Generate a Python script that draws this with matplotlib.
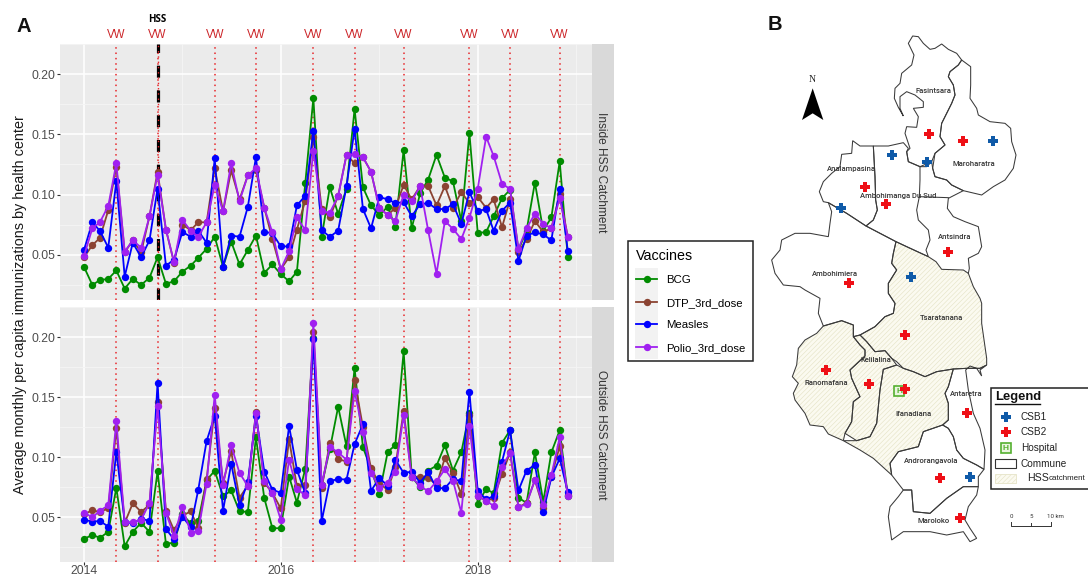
import numpy as np
import pandas as pd
import matplotlib
matplotlib.use("Agg")
import matplotlib.pyplot as plt
from matplotlib.lines import Line2D
from matplotlib.patches import Polygon, Rectangle

plt.rcParams['font.family'] = ['Liberation Sans', 'DejaVu Sans']
plt.rcParams['hatch.linewidth'] = 0.45

W, H = 1088, 577

months = pd.date_range('2014-01-01', periods=60, freq='MS')
vw_dates = ['2014-05-01', '2014-10-01', '2015-05-01', '2015-10-01', '2016-05-01',
            '2016-10-01', '2017-04-01', '2017-12-01', '2018-05-01', '2018-11-01']
hss_date = '2014-10-01'
year_ticks = ['2014', '2016', '2018']
year_minor = ['2015', '2017', '2019']
y_ticks = [0.05, 0.10, 0.15, 0.20]
y_minor = [0.025, 0.075, 0.125, 0.175, 0.225]

vaccines = ['BCG', 'DTP_3rd_dose', 'Measles', 'Polio_3rd_dose']
colors = ['#008B00', '#8B4332', '#0000FF', '#A020F0']

in_bcg = [.040,.025,.029,.030,.037,.022,.030,.025,.031,.048,
          .026,.028,.036,.041,.0475,.055,.065,.040,.061,.042,
          .054,.066,.035,.042,.034,.028,.036,.1095,.180,.065,
          .106,.084,.105,.171,.106,.091,.083,.090,.073,.137,
          .072,.101,.1125,.133,.114,.111,.078,.151,.068,.069,
          .082,.097,.104,.054,.070,.110,.070,.081,.1275,.048]
in_dtp = [.048,.058,.064,.087,.123,.052,.062,.052,.082,.119,
          .071,.0435,.075,.0705,.077,.077,.122,.086,.120,.096,
          .116,.120,.089,.063,.038,.048,.071,.095,.148,.088,
          .081,.099,.133,.126,.131,.119,.089,.083,.089,.108,
          .096,.107,.107,.091,.107,.089,.102,.093,.098,.089,
          .096,.073,.096,.052,.063,.078,.069,.072,.1005,.065]
in_measles = [.054,.077,.070,.056,.111,.032,.060,.048,.062,.105,
              .041,.046,.069,.065,.070,.060,.130,.040,.066,.065,
              .090,.131,.069,.068,.057,.057,.091,.099,.153,.0705,
              .065,.070,.107,.1546,.088,.072,.098,.096,.093,.0937,
              .082,.092,.093,.088,.088,.092,.0757,.102,.0866,.0877,
              .070,.0866,.0934,.045,.066,.0686,.067,.062,.105,.0535]
in_polio = [.049,.072,.077,.0905,.126,.0527,.062,.056,.082,.1166,
            .071,.044,.079,.070,.065,.077,.108,.086,.126,.0945,
            .116,.122,.089,.0686,.038,.053,.081,.0705,.1365,.086,
            .085,.0986,.133,.1335,.131,.119,.089,.083,.078,.100,
            .0945,.107,.0702,.0344,.078,.0716,.063,.0806,.105,.148,
            .132,.109,.1046,.055,.072,.084,.076,.072,.097,.065]

out_bcg = [.032,.0355,.033,.038,.0746,.026,.038,.0454,.038,.0882,
           .028,.029,.0527,.045,.047,.081,.0888,.0675,.0724,.055,
           .0546,.1166,.066,.041,.041,.084,.0623,.0904,.199,.077,
           .1065,.142,.109,.174,.1084,.090,.0697,.1046,.110,.188,
           .084,.075,.089,.093,.110,.089,.1043,.137,.0615,.0737,
           .070,.112,.1225,.0664,.062,.104,.063,.104,.1225,.0677]
out_dtp = [.0525,.056,.0544,.0576,.124,.0454,.0617,.0546,.0604,.146,
           .055,.0394,.0514,.055,.041,.0817,.1406,.079,.105,.0664,
           .0765,.1374,.0787,.0705,.0574,.115,.0757,.077,.204,.0746,
           .1117,.0986,.0964,.164,.125,.0907,.078,.073,.092,.1385,
           .084,.0836,.083,.077,.0994,.087,.0694,.1355,.0677,.0637,
           .066,.086,.104,.0585,.062,.081,.058,.084,.109,.069]
out_measles = [.048,.0465,.047,.0424,.1046,.0465,.045,.049,.047,.162,
               .0404,.0317,.0505,.042,.073,.1136,.1344,.0555,.0948,.060,
               .0795,.1346,.088,.073,.0705,.126,.0896,.070,.198,.047,
               .080,.082,.0814,.111,.1275,.072,.083,.076,.098,.087,
               .088,.079,.0875,.0743,.0743,.082,.080,.1546,.072,.065,
               .0677,.0964,.1225,.0724,.089,.0937,.0546,.0833,.099,.071]
out_polio = [.054,.050,.0555,.060,.130,.046,.046,.048,.062,.1425,
             .054,.0345,.0587,.0374,.039,.078,.152,.077,.110,.087,
             .076,.137,.080,.0705,.048,.098,.0735,.0686,.212,.077,
             .1087,.104,.098,.155,.121,.087,.0746,.079,.088,.135,
             .0836,.076,.0718,.080,.090,.0806,.054,.126,.0677,.0637,
             .0596,.0923,.1038,.0585,.061,.0814,.060,.085,.1166,.0677]

# map outlines, in the map's own units
maroharatra = [(605,120),(632,140),(632,195),(630,235),(650,265),(655,285),(690,305),(735,310),(752,325),
               (755,365),(768,405),(760,445),(735,480),(700,500),(665,525),(610,512),(575,495),(560,480),
               (525,470),(518,445),(525,400),(555,375),(540,350),(545,310),(560,280),(575,250),(585,225),
               (580,195),(565,170),(570,155),(595,135)]
fasintsara = [(445,70),(458,48),(475,50),(490,70),(510,88),(525,85),(545,72),(565,88),(590,100),(605,120),
              (595,135),(570,155),(565,170),(580,195),(585,225),(575,250),(560,280),(545,310),(540,350),
              (555,375),(525,400),(515,425),(500,440),(480,440),(445,425),(440,395),(450,385),(435,340),
              (440,320),(470,322),(475,290),(460,265),(490,262),(490,245),(465,225),(440,215),(420,230),
              (420,265),(430,288),(415,262),(403,235),(405,205),(420,190),(425,160),(455,135),(462,105)]
analampasina = [(278,362),(300,378),(340,378),(345,470),(347,540),(352,570),(340,600),(318,618),(260,580),
                (205,548),(190,545),(178,515),(190,485),(215,460),(240,440),(245,403),(275,400)]
ambohimanga = [(340,378),(385,378),(430,368),(445,385),(440,395),(445,425),(480,440),(480,480),(478,530),
               (470,570),(475,600),(505,630),(510,660),(498,690),(505,710),(440,680),(408,665),(318,618),
               (340,600),(352,570),(347,540),(345,470)]
antsindra_line = [(480,440),(515,425),(518,445),(525,470),(560,480),(575,495),(610,512),(565,535),(562,565),
                  (580,590),(615,605),(655,620),(665,680),(655,700),(625,715),(628,745),(625,760)]
antsindra_west = [(478,530),(565,533)]
ambohimiera = [(205,548),(215,575),(210,610),(205,650),(150,640),(105,640),(65,660),(60,690),(35,720),
               (45,760),(70,795),(120,800),(135,810),(180,835),(175,880),(190,918),(245,902),(280,915),
               (280,950),(300,945),(345,920),(375,890),(400,880),(405,850),(385,820),(385,790),(410,750),
               (395,730),(400,700),(408,665),(318,618),(260,580)]
tsaratanana = [(408,665),(440,680),(505,710),(528,725),(545,748),(610,750),(625,760),(640,800),(660,835),
               (665,850),(665,910),(680,1015),(680,1035),(660,1045),(620,1045),(580,1047),(530,1055),(495,1070),
               (460,1055),(430,1045),(410,1025),(395,1015),(375,992),(345,995),(320,965),(300,945),(345,920),
               (375,890),(400,880),(405,850),(385,820),(385,790),(410,750),(395,730),(400,700)]
ranomafana = [(245,902),(280,915),(280,950),(300,975),(315,990),(315,1008),(270,1050),(275,1075),(300,1130),
              (280,1145),(275,1205),(255,1240),(250,1262),(205,1242),(190,1220),(150,1215),(135,1180),
              (105,1140),(100,1120),(115,1090),(97,1070),(110,1035),(115,985),(135,960),(170,940),(190,918)]
kelilalina = [(280,950),(300,945),(320,965),(345,995),(375,992),(395,1015),(410,1035),(370,1048),(360,1110),
              (350,1210),(330,1250),(290,1262),(255,1240),(275,1205),(280,1145),(300,1130),(275,1075),
              (270,1050),(315,1008),(315,990),(300,975)]
ifanadiana = [(410,1035),(430,1045),(460,1055),(495,1070),(530,1055),(580,1047),(565,1100),(555,1120),(565,1150),
              (565,1200),(548,1215),(490,1235),(475,1280),(415,1295),(390,1330),(395,1365),(340,1315),(300,1290),
              (250,1262),(290,1262),(330,1250),(350,1210),(360,1110),(370,1048)]
antaretra = [(580,1047),(565,1100),(555,1120),(565,1150),(565,1200),(548,1215),(565,1225),(580,1250),(590,1290),
             (610,1315),(650,1335),(672,1348),(675,1290),(660,1225),(640,1180),(625,1110),(617,1050),(630,1038),
             (650,1045),(665,1068),(660,1050),(680,1035),(660,1045),(620,1045)]
androrangavola = [(548,1215),(565,1225),(580,1250),(590,1290),(610,1315),(650,1335),(672,1348),(655,1370),(655,1400),
                  (610,1400),(560,1435),(510,1480),(460,1475),(455,1410),(430,1410),(395,1365),(390,1330),
                  (415,1295),(475,1280),(490,1235)]
maroloko = [(430,1410),(455,1410),(460,1475),(510,1480),(560,1435),(610,1400),(655,1400),(650,1425),(625,1460),
            (615,1500),(630,1525),(650,1555),(630,1565),(610,1535),(560,1545),(510,1535),(430,1535),(395,1560),
            (390,1525),(385,1490),(390,1460),(415,1430)]
communes = [maroharatra, fasintsara, analampasina, ambohimanga, ambohimiera, antaretra, androrangavola, maroloko]
hss_communes = [tsaratanana, ranomafana, kelilalina, ifanadiana]

csb1_x = [698, 396, 501, 243, 452, 631]
csb1_y = [362, 405, 425, 564, 772, 1371]
csb2_x = [508, 608, 316, 377, 564, 268, 435, 197, 326, 435, 620, 540, 600]
csb2_y = [342, 362, 500, 552, 697, 789, 946, 1051, 1091, 1108, 1180, 1373, 1494]
hospital_x = [418]
hospital_y = [1114]

commune_names = ['Fasintsara', 'Maroharatra', 'Analampasina', 'Ambohimanga Du Sud', 'Antsindra', 'Ambohimiera',
                 'Tsaratanana', 'Kelilalina', 'Ranomafana', 'Antaretra', 'Ifanadiana', 'Androrangavola', 'Maroloko']
name_x = [521, 642, 273, 414, 584, 225, 545, 347, 199, 619, 459, 513, 521]
name_y = [214, 431, 446, 527, 652, 763, 894, 1019, 1089, 1121, 1181, 1324, 1502]


def px_axes(fig, left, top, right, bottom):
    return fig.add_axes([left / W, 1 - bottom / H, (right - left) / W, (bottom - top) / H])


fig = plt.figure(figsize=(W / 100, H / 100), dpi=100)

x0 = pd.Timestamp('2014-01-01') - pd.Timedelta(days=89)
x1 = pd.Timestamp('2014-01-01') + pd.Timedelta(days=1883)

top_ax = px_axes(fig, 60, 44, 591.5, 300)
bot_ax = px_axes(fig, 60, 307, 591.5, 562)
panels = [(top_ax, [in_bcg, in_dtp, in_measles, in_polio], 0.0125, 0.2227),
          (bot_ax, [out_bcg, out_dtp, out_measles, out_polio], 0.0129, 0.2215)]

for ax, series, ymin, ymax in panels:
    ax.set_facecolor('#EBEBEB')
    for s in ax.spines.values():
        s.set_visible(False)
    ax.set_xlim(x0, x1)
    ax.set_ylim(ymin, ymax)
    ax.set_yticks(y_ticks)
    ax.set_yticklabels(['%.2f' % t for t in y_ticks])
    ax.set_yticks(y_minor, minor=True)
    ax.set_xticks(pd.to_datetime(year_ticks))
    ax.set_xticks(pd.to_datetime(year_minor), minor=True)
    ax.set_xticklabels(year_ticks)
    ax.grid(which='major', color='white', lw=1.1, zorder=0)
    ax.grid(which='minor', color='#F5F5F5', lw=0.6, zorder=0)
    ax.set_axisbelow(True)
    ax.tick_params(which='minor', length=0)
    ax.tick_params(which='major', length=2, width=0.8, color='#333333', labelcolor='#4D4D4D',
                   labelsize=8.8, pad=1.2)
    for d in vw_dates:
        ax.axvline(pd.Timestamp(d), color='#E8262A', lw=1.1, ls=(0, (1, 2.5)), zorder=1.5)
    # polio goes under dtp and measles, as in the original
    for i in [0, 3, 1, 2]:
        ax.plot(months, series[i], color=colors[i], lw=1.3, marker='o', ms=5.3, mew=0, zorder=2 + 0.1 * i)

bot_ax.tick_params(axis='x', which='major', pad=0.3)
top_ax.tick_params(axis='x', which='both', length=0, labelbottom=False)
top_ax.axvline(pd.Timestamp(hss_date), color='black', lw=2.3, ls=(0, (3.75, 4)), zorder=1.6)
top_ax.axvline(pd.Timestamp(hss_date), color='#E8262A', lw=1.0, ls=(0, (1, 2.8)), zorder=1.7)

for d in vw_dates:
    top_ax.annotate('VW', (pd.Timestamp(d), 1), xycoords=('data', 'axes fraction'), xytext=(0, 8.5),
                    textcoords='offset pixels', ha='center', va='center', color='#CC2529', fontsize=8.3)
top_ax.annotate('HSS', (pd.Timestamp(hss_date), 1), xycoords=('data', 'axes fraction'), xytext=(0, 24),
                textcoords='offset pixels', ha='center', va='center', color='black', fontsize=7,
                fontweight='bold', family='Open Sans')

fig.text(20 / W, 1 - 305 / H, 'Average monthly per capita immunizations by health center',
         rotation=90, ha='center', va='center', fontsize=10.4, color='#1A1A1A')
fig.text(24 / W, 1 - 27 / H, 'A', ha='center', va='center', fontsize=14.5, fontweight='bold', color='#111111')
fig.text(775 / W, 1 - 25 / H, 'B', ha='center', va='center', fontsize=14.5, fontweight='bold', color='#111111')

for top, bottom, label in [(44, 300, 'Inside HSS Catchment'), (307, 562, 'Outside HSS Catchment')]:
    strip = px_axes(fig, 591.5, top, 614, bottom)
    strip.set_facecolor('#D9D9D9')
    strip.set_xticks([])
    strip.set_yticks([])
    for s in strip.spines.values():
        s.set_visible(False)
    strip.text(0.44, 0.5, label, rotation=-90, ha='center', va='center', transform=strip.transAxes,
               fontsize=8.6, color='#333333')

# legend of panel A
fig.add_artist(Rectangle((635 / W, 1 - 359 / H), 23 / W, 91 / H, transform=fig.transFigure,
                         facecolor='#F2F2F2', edgecolor='none', zorder=0))
handles = [Line2D([], [], color=c, lw=1.3, marker='o', ms=5.3, mew=0) for c in colors]
leg = fig.legend(handles, vaccines, title='Vaccines', loc='upper left',
                 bbox_to_anchor=(628 / W, 1 - 241 / H), bbox_transform=fig.transFigure,
                 fontsize=8.2, title_fontsize=10.3, handlelength=1.9, handletextpad=0.75,
                 labelspacing=1.1, borderaxespad=0, borderpad=0.68, fancybox=False,
                 alignment='left')
leg.get_frame().set_alpha(None)
leg.get_frame().set_facecolor('none')
leg.get_frame().set_edgecolor('#222222')
leg.get_frame().set_linewidth(1.1)

# map, panel B
map_ax = px_axes(fig, 760, 0, 1088, H)
map_ax.set_xlim(0, 984)
map_ax.set_ylim(1671, -60)
map_ax.axis('off')
map_ax.patch.set_alpha(0)

line_col = '#3A3A3A'
for poly in hss_communes:
    map_ax.add_patch(Polygon(poly, closed=True, facecolor='#FBFAF0', edgecolor='#E6E4C8', hatch='///////', lw=0))
for poly in hss_communes + communes:
    map_ax.add_patch(Polygon(poly, closed=True, fill=False, edgecolor=line_col, lw=0.75))
for part in [antsindra_line, antsindra_west]:
    map_ax.plot(*zip(*part), color=line_col, lw=0.75)

map_ax.plot(hospital_x, hospital_y, ls='', marker='s', ms=6.6, mfc='#EAF5DF', mec='#55B030', mew=1.2, zorder=3)
map_ax.text(hospital_x[0], hospital_y[0], 'H', color='#55B030', fontsize=6, fontweight='bold',
            ha='center', va='center', zorder=3.1)
map_ax.plot(csb1_x, csb1_y, ls='', marker='P', ms=7.4, color='#0F5AA8', mew=0, zorder=4)
map_ax.plot(csb2_x, csb2_y, ls='', marker='P', ms=7.4, color='#EE0F16', mew=0, zorder=4)

for name, x, y in zip(commune_names, name_x, name_y):
    map_ax.text(x, y, name, ha='center', va='center', fontsize=5.5, color='#333333',
                family='Roboto', fontweight='medium', zorder=5)

# north arrow
map_ax.add_patch(Polygon([(158, 205), (190, 300), (158, 280), (126, 300)], closed=True, facecolor='black', lw=0))
map_ax.text(158, 178, 'N', ha='center', va='center', fontsize=7, family='Liberation Serif', color='#222222')

# legend of the map
map_ax.add_patch(Rectangle((692, 1105), 340, 303, facecolor='white', edgecolor='#222222', lw=1.1, zorder=6))
map_ax.text(706, 1132, 'Legend', fontsize=9.4, fontweight='bold', ha='left', va='center', color='#111111', zorder=7)
map_ax.plot([706, 840], [1152, 1152], color='#111111', lw=1, zorder=7)
map_ax.plot([737], [1190], marker='P', ms=7, color='#0F5AA8', mew=0, zorder=7)
map_ax.plot([737], [1237], marker='P', ms=7, color='#EE0F16', mew=0, zorder=7)
map_ax.plot([737], [1284], marker='s', ms=6.6, mfc='#EAF5DF', mec='#55B030', mew=1.2, zorder=7)
map_ax.text(737, 1284, 'H', color='#55B030', fontsize=6, fontweight='bold', ha='center', va='center', zorder=7.1)
map_ax.add_patch(Rectangle((705, 1317), 63, 27, facecolor='white', edgecolor='#333333', lw=0.8, zorder=7))
map_ax.add_patch(Rectangle((705, 1361), 63, 28, facecolor='#FBFAF0', edgecolor='#E6E4C8', hatch='///////', lw=0.6, zorder=7))
for label, y in [('CSB1', 1190), ('CSB2', 1237), ('Hospital', 1284), ('Commune', 1331)]:
    map_ax.text(782, y, label, fontsize=7.2, ha='left', va='center', color='#222222', zorder=7)
map_ax.text(800, 1375, 'HSS', fontsize=7.6, ha='left', va='center', color='#222222', zorder=7)
map_ax.text(866, 1377, 'catchment', fontsize=5.8, ha='left', va='center', color='#222222', zorder=7)

# scale bar
map_ax.plot([754, 754, 873, 873], [1505, 1517, 1517, 1505], color='#333333', lw=0.7)
map_ax.plot([814, 814], [1510, 1517], color='#333333', lw=0.7)
for label, x in [('0', 754), ('5', 814), ('10 km', 887)]:
    map_ax.text(x, 1488, label, fontsize=4.4, ha='center', va='center', color='#333333', family='Roboto')

fig.savefig('out.png', dpi=100)
